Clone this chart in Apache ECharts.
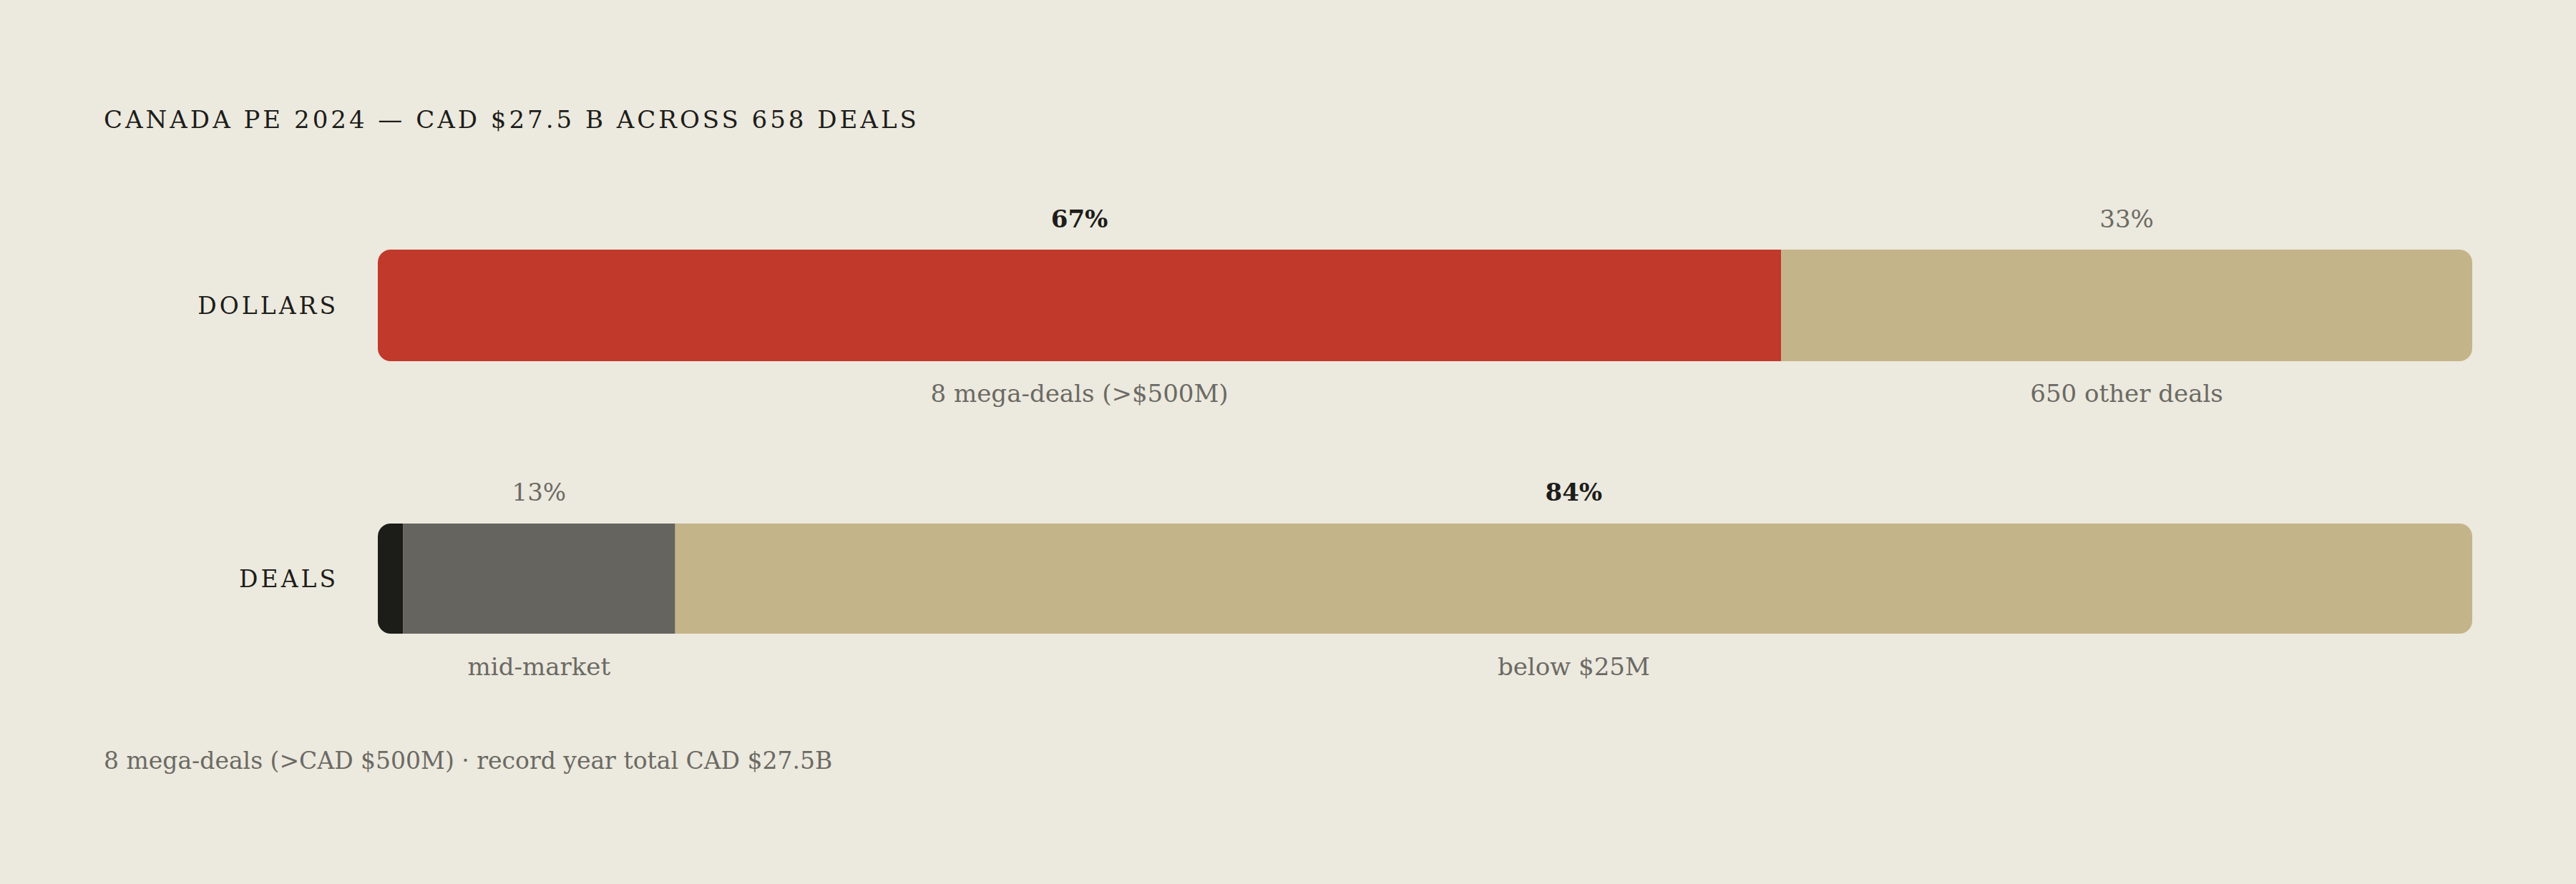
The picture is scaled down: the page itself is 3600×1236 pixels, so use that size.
<!DOCTYPE html>
<html>
<head>
<meta charset="utf-8">
<script src="https://cdn.jsdelivr.net/npm/echarts@6/dist/echarts.min.js"></script>
<style>
    html, body { margin: 0; padding: 0; background: #ece9de; }
    #chart { width: 3600px; height: 1236px; }
    /* letter-spaced caps for the title and row names */
    #chart text[style*="SpacedWide"] { letter-spacing: 4px; }
    #chart text[style*="SpacedRow"] { letter-spacing: 4px; }
</style>
</head>
<body>
<div id="chart"></div>
<script>
    let titleText = 'CANADA PE 2024 \u2014 CAD $27.5 B ACROSS 658 DEALS';
    let footText = '8 mega-deals (>CAD $500M) \u00b7 record year total CAD $27.5B';

    // share of total dollars
    let dollarShares = [67, 33];
    let dollarNames = ['8 mega-deals (>$500M)', '650 other deals'];
    let dollarPct = ['67%', '33%'];
    let dollarBold = [true, false];

    // share of deal count (bar widths as drawn)
    let dealShares = [1.2, 13, 85.8];
    let dealNames = ['', 'mid-market', 'below $25M'];
    let dealPct = ['', '13%', '84%'];
    let dealBold = [false, false, true];

    let rowNames = ['DOLLARS', 'DEALS'];

    let dollarColors = ['#c0392b', '#c4b489'];
    let dealColors = ['#1c1c18', '#65645e', '#c4b489'];

    let serif = "'DejaVu Serif', serif";

    function sumOf(arr) {
        let s = 0;
        arr.forEach(function (v) { s += v; });
        return s;
    }

    function buildSeries(shares, names, pct, bold, colors, idx) {
        let list = [];
        for (let i = 0; i < shares.length; i++) {
            let radius = [0, 0, 0, 0];
            if (i === 0) radius = [18, 0, 0, 18];
            if (i === shares.length - 1) radius = [0, 18, 18, 0];
            list.push({
                type: 'bar',
                stack: 'row' + idx,
                xAxisIndex: idx,
                yAxisIndex: idx,
                barWidth: '100%',
                silent: true,
                itemStyle: { color: colors[i], borderRadius: radius },
                label: {
                    show: names[i] !== '',
                    position: 'inside',
                    color: '#6b6a64',
                    textBorderWidth: 0,
                    formatter: '{' + (bold[i] ? 'tb' : 't') + '|' + pct[i] + '}\n{s| }\n{b|' + names[i] + '}',
                    rich: {
                        t: { fontFamily: serif, fontSize: 34, color: '#6b6a64', lineHeight: 48, align: 'center' },
                        tb: { fontFamily: serif, fontSize: 34, fontWeight: 'bold', color: '#1d1d1a', lineHeight: 48, align: 'center' },
                        s: { fontSize: 10, lineHeight: 198 },
                        b: { fontFamily: serif, fontSize: 34, color: '#6b6a64', lineHeight: 44, align: 'center' }
                    }
                },
                data: [shares[i]]
            });
        }
        return list;
    }

    let myChart = echarts.init(document.getElementById('chart'), null, { renderer: 'svg' });

    let rowAxis = function (idx) {
        return {
            type: 'category',
            gridIndex: idx,
            data: [rowNames[idx]],
            axisLine: { show: false },
            axisTick: { show: false },
            axisLabel: {
                margin: 55,
                color: '#1d1d1a',
                fontSize: 33,
                fontFamily: "'DejaVu Serif', SpacedRow, serif"
            }
        };
    };
    let valAxis = function (idx, total) {
        return {
            type: 'value',
            gridIndex: idx,
            min: 0,
            max: total,
            show: false,
            splitLine: { show: false }
        };
    };

    let option = {
        backgroundColor: '#ece9de',
        animation: false,
        title: [
            {
                text: titleText,
                left: 145,
                top: 150,
                padding: 0,
                textStyle: {
                    fontFamily: "'DejaVu Serif', SpacedWide, serif",
                    fontSize: 34,
                    fontWeight: 'normal',
                    color: '#1d1d1a'
                }
            },
            {
                text: footText,
                left: 145,
                top: 1047,
                padding: 0,
                textStyle: {
                    fontFamily: serif,
                    fontSize: 33,
                    fontWeight: 'normal',
                    color: '#6b6a64'
                }
            }
        ],
        grid: [
            { left: 528, right: 145, top: 349, height: 156 },
            { left: 528, right: 145, top: 732, height: 154 }
        ],
        xAxis: [valAxis(0, sumOf(dollarShares)), valAxis(1, sumOf(dealShares))],
        yAxis: [rowAxis(0), rowAxis(1)],
        series: buildSeries(dollarShares, dollarNames, dollarPct, dollarBold, dollarColors, 0)
            .concat(buildSeries(dealShares, dealNames, dealPct, dealBold, dealColors, 1))
    };
    myChart.setOption(option);
    window.onresize = function () {
        myChart.resize();
    };
</script>
</body>
</html>
